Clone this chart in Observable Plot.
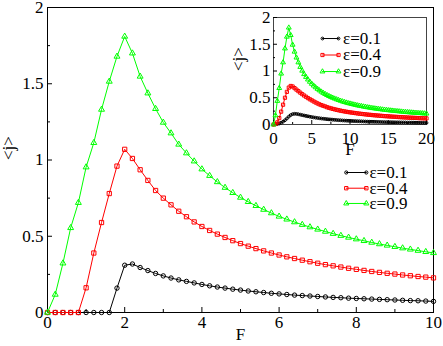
<!DOCTYPE html>
<html>
<head>
<meta charset="utf-8">
<script src="https://cdn.jsdelivr.net/npm/d3@7"></script>
<script src="https://cdn.jsdelivr.net/npm/@observablehq/plot@0.6"></script>
<style>
  html, body { margin: 0; padding: 0; background: white; }
  #wrap { position: relative; width: 443px; height: 346px; }
  #wrap svg { position: absolute; left: 0; top: 0; }
</style>
</head>
<body>
<div id="wrap"></div>
<script>
// ---------- main panel data (F = 0, 0.2, ..., 10) ----------
const mainF = d3.range(51).map(i => i / 5);
const mainEps01 = [
  0, 0, 0, 0, 0, 0, 0, 0, 0, 0.16,
  0.31, 0.318, 0.295, 0.275, 0.256, 0.24, 0.226, 0.214, 0.204, 0.194,
  0.184, 0.175, 0.167, 0.16, 0.153, 0.147, 0.141, 0.136, 0.131, 0.126,
  0.122, 0.118, 0.114, 0.111, 0.108, 0.105, 0.102, 0.099, 0.097, 0.094,
  0.092, 0.09, 0.088, 0.086, 0.084, 0.082, 0.08, 0.078, 0.077, 0.075,
  0.073
];
const mainEps04 = [
  0, 0, 0, 0, 0, 0.162, 0.39, 0.59, 0.78, 0.96,
  1.07, 1.01, 0.936, 0.866, 0.8, 0.75, 0.706, 0.664, 0.628, 0.594,
  0.564, 0.538, 0.514, 0.492, 0.471, 0.452, 0.435, 0.419, 0.404, 0.39,
  0.377, 0.365, 0.354, 0.343, 0.333, 0.323, 0.314, 0.306, 0.298, 0.29,
  0.283, 0.276, 0.269, 0.263, 0.257, 0.252, 0.246, 0.241, 0.236, 0.232,
  0.227
];
const mainEps09 = [
  0, 0.118, 0.323, 0.555, 0.72, 0.953, 1.113, 1.331, 1.515, 1.679,
  1.81, 1.7, 1.548, 1.438, 1.336, 1.246, 1.176, 1.102, 1.045, 0.992,
  0.94, 0.897, 0.856, 0.819, 0.785, 0.754, 0.726, 0.7, 0.675, 0.652,
  0.63, 0.611, 0.593, 0.576, 0.56, 0.545, 0.531, 0.517, 0.504, 0.492,
  0.481, 0.47, 0.459, 0.449, 0.44, 0.431, 0.422, 0.414, 0.406, 0.398,
  0.391
];

// ---------- inset data (F = 0, 0.25, ..., 20) ----------
const insetF = d3.range(81).map(i => i / 4);
const insetEps01 = [
  0, 0.002, 0.008, 0.018, 0.033, 0.053, 0.08, 0.112, 0.147, 0.176, 0.194, 0.2,
  0.198, 0.192, 0.184, 0.176, 0.168, 0.16, 0.153, 0.146, 0.139, 0.133, 0.127, 0.122,
  0.117, 0.112, 0.108, 0.104, 0.1, 0.096, 0.093, 0.09, 0.087, 0.084, 0.081, 0.079,
  0.076, 0.074, 0.072, 0.07, 0.068, 0.066, 0.064, 0.063, 0.061, 0.06, 0.058, 0.057,
  0.055, 0.054, 0.053, 0.052, 0.051, 0.05, 0.049, 0.048, 0.047, 0.046, 0.045, 0.044,
  0.043, 0.043, 0.042, 0.041, 0.04, 0.04, 0.039, 0.038, 0.038, 0.037, 0.036, 0.036,
  0.035, 0.035, 0.034, 0.033, 0.033, 0.032, 0.032, 0.031, 0.031
];
const insetEps04 = [
  0, 0.01, 0.04, 0.12, 0.24, 0.37, 0.5, 0.61, 0.69, 0.72, 0.71, 0.68,
  0.652, 0.623, 0.595, 0.568, 0.542, 0.518, 0.494, 0.472, 0.452, 0.431, 0.412, 0.394,
  0.377, 0.363, 0.35, 0.338, 0.323, 0.312, 0.302, 0.292, 0.283, 0.275, 0.267, 0.259,
  0.252, 0.245, 0.239, 0.233, 0.227, 0.222, 0.217, 0.212, 0.207, 0.202, 0.198, 0.194,
  0.19, 0.186, 0.182, 0.179, 0.175, 0.172, 0.169, 0.166, 0.163, 0.16, 0.157, 0.155,
  0.152, 0.15, 0.147, 0.145, 0.143, 0.14, 0.138, 0.136, 0.134, 0.132, 0.13, 0.128,
  0.127, 0.125, 0.123, 0.122, 0.12, 0.118, 0.117, 0.115, 0.114
];
const insetEps09 = [
  0, 0.17, 0.44, 0.68, 0.95, 1.16, 1.42, 1.64, 1.81, 1.67, 1.49, 1.36,
  1.25, 1.16, 1.075, 1.005, 0.94, 0.888, 0.84, 0.798, 0.76, 0.726, 0.694, 0.665,
  0.638, 0.613, 0.59, 0.569, 0.549, 0.531, 0.514, 0.498, 0.483, 0.469, 0.456, 0.443,
  0.431, 0.42, 0.409, 0.399, 0.39, 0.381, 0.372, 0.364, 0.356, 0.349, 0.342, 0.335,
  0.328, 0.322, 0.316, 0.31, 0.304, 0.299, 0.294, 0.289, 0.284, 0.279, 0.275, 0.27,
  0.266, 0.262, 0.258, 0.254, 0.25, 0.247, 0.243, 0.24, 0.236, 0.233, 0.23, 0.227,
  0.224, 0.221, 0.218, 0.216, 0.213, 0.21, 0.208, 0.205, 0.203
];

// ---------- labels, ticks, styling ----------
const seriesLabels = ["ε=0.1", "ε=0.4", "ε=0.9"];
const seriesColors = ["#000000", "#ff0000", "#00ff00"];
const seriesSymbols = ["circle", "square", "triangle"];
const mainXTicks = [0, 2, 4, 6, 8, 10];
const mainXMinor = [1, 3, 5, 7, 9];
const mainYTicks = [0, 0.5, 1, 1.5, 2];
const mainYMinor = [0.25, 0.75, 1.25, 1.75];
const insetXTicks = [0, 5, 10, 15, 20];
const insetXMinor = [2.5, 7.5, 12.5, 17.5];
const insetYTicks = [0, 0.5, 1, 1.5, 2];
const insetYMinor = [0.25, 0.75, 1.25, 1.75];
const xTitle = "F";
const yTitle = "<j>";

const font = "'Liberation Serif', 'Times New Roman', serif";
const fmt = d3.format("");

function series(F, vals) { return F.map((f, i) => ({F: f, j: vals[i]})); }

function curveMarks(F, valsList, r, sw) {
  const out = [];
  valsList.forEach((vals, k) => {
    const data = series(F, vals);
    out.push(Plot.line(data, {x: "F", y: "j", stroke: seriesColors[k], strokeWidth: sw}));
    out.push(Plot.dot(data, {x: "F", y: "j", stroke: seriesColors[k], fill: "none",
      symbol: seriesSymbols[k], r: r[k], strokeWidth: sw}));
  });
  return out;
}

function legendMarks(x0, x1, xt, ys, r, fs) {
  const out = [];
  seriesLabels.forEach((lab, k) => {
    const seg = [{F: x0, j: ys[k]}, {F: x1, j: ys[k]}];
    out.push(Plot.line(seg, {x: "F", y: "j", stroke: seriesColors[k], strokeWidth: 1}));
    out.push(Plot.dot(seg, {x: "F", y: "j", stroke: seriesColors[k], fill: "none",
      symbol: seriesSymbols[k], r: r[k], strokeWidth: 1}));
    out.push(Plot.text([lab], {x: xt, y: ys[k], text: d => d, textAnchor: "start",
      fontSize: fs, fill: "black"}));
  });
  return out;
}

// ---------- main chart ----------
const main = Plot.plot({
  width: 443, height: 346,
  marginLeft: 47, marginRight: 10, marginTop: 7, marginBottom: 34,
  style: {fontFamily: font, fontSize: "17px", background: "white", color: "black", overflow: "visible"},
  x: {domain: [0, 10]},
  y: {domain: [0, 2]},
  marks: [
    Plot.frame({stroke: "black", strokeWidth: 1}),
    Plot.axisX({ticks: mainXTicks, tickSize: -5, tickFormat: () => "", label: null}),
    Plot.axisX({ticks: mainXMinor, tickSize: -3, tickFormat: () => "", label: null}),
    Plot.axisX({ticks: mainXTicks, tickSize: 0, tickPadding: 3, tickFormat: fmt, label: null, fontSize: 17}),
    Plot.axisY({ticks: mainYTicks, tickSize: -5, tickFormat: () => "", label: null}),
    Plot.axisY({ticks: mainYMinor, tickSize: -3, tickFormat: () => "", label: null}),
    Plot.axisY({ticks: mainYTicks, tickSize: 0, tickPadding: 4, tickFormat: fmt, label: null, fontSize: 17}),
    Plot.text([xTitle], {frameAnchor: "bottom", dy: 27, text: d => d, fontSize: 17}),
    Plot.text([yTitle], {frameAnchor: "left", dx: -39, rotate: -90, text: d => d, fontSize: 17}),
    ...curveMarks(mainF, [mainEps01, mainEps04, mainEps09], [2.2, 2.4, 2.2], 1),
    ...legendMarks(7.74, 8.26, 8.34, [0.918, 0.815, 0.715], [1.6, 1.9, 1.9], 17)
  ]
});

// ---------- inset chart ----------
const inset = Plot.plot({
  width: 443, height: 346,
  marginLeft: 273, marginRight: 17, marginTop: 17, marginBottom: 222,
  style: {fontFamily: font, fontSize: "17px", background: "transparent", color: "black", overflow: "visible"},
  x: {domain: [0, 20]},
  y: {domain: [0, 2]},
  marks: [
    Plot.frame({stroke: "#444", strokeWidth: 1}),
    Plot.axisX({ticks: insetXTicks, tickSize: -4, tickFormat: () => "", label: null}),
    Plot.axisX({ticks: insetXMinor, tickSize: -2, tickFormat: () => "", label: null}),
    Plot.axisX({ticks: insetXTicks, tickSize: 0, tickPadding: 7, tickFormat: fmt, label: null, fontSize: 17}),
    Plot.axisY({ticks: insetYTicks, tickSize: -4, tickFormat: () => "", label: null}),
    Plot.axisY({ticks: insetYMinor, tickSize: -2, tickFormat: () => "", label: null}),
    Plot.axisY({ticks: insetYTicks, tickSize: 0, tickPadding: 3, tickFormat: fmt, label: null, fontSize: 17}),
    Plot.text([xTitle], {frameAnchor: "bottom", dy: 30, text: d => d, fontSize: 17}),
    Plot.text([yTitle], {frameAnchor: "left", dx: -35, rotate: -90, text: d => d, fontSize: 17}),
    ...curveMarks(insetF, [insetEps01, insetEps04, insetEps09], [1.4, 1.8, 1.8], 1),
    ...legendMarks(6.4, 8.5, 9.1, [1.607, 1.299, 0.99], [1.4, 1.8, 1.8], 17)
  ]
});

const wrap = document.getElementById("wrap");
wrap.appendChild(main);
wrap.appendChild(inset);
</script>
</body>
</html>
